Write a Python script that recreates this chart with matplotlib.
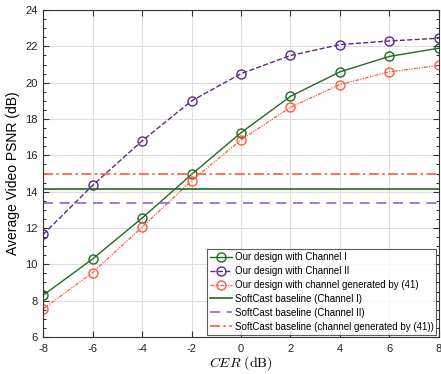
import numpy as np
import matplotlib
matplotlib.use("Agg")
import matplotlib.pyplot as plt

plt.rcParams['font.family'] = ['Liberation Sans', 'DejaVu Sans']
plt.rcParams['mathtext.fontset'] = 'cm'

cer = [-8, -6, -4, -2, 0, 2, 4, 6, 8]
ours_ch1 = [8.3, 10.3, 12.55, 14.95, 17.25, 19.25, 20.6, 21.45, 21.9]
ours_ch2 = [11.65, 14.35, 16.8, 19.0, 20.5, 21.5, 22.1, 22.3, 22.45]
ours_41 = [7.55, 9.55, 12.05, 14.6, 16.85, 18.65, 19.9, 20.6, 20.95]
softcast_ch1 = 14.15
softcast_ch2 = 13.4
softcast_41 = 15.0

green = '#1f6b1f'
purple = '#5a2a8a'
red = '#ff5a3c'

fig = plt.figure(figsize=(4.41, 3.74), dpi=100)
ax = fig.add_axes([0.098, 0.099, 0.897, 0.874])

ax.plot(cer, ours_ch1, '-', color=green, marker='o', mfc='none', ms=6.5, lw=1.0,
        label='Our design with Channel I')
ax.plot(cer, ours_ch2, '--', color=purple, marker='o', mfc='none', ms=6.5, lw=1.0,
        label='Our design with Channel II')
ax.plot(cer, ours_41, '-.', color=red, marker='o', mfc='none', ms=6.5, lw=0.9,
        dashes=(3, 1, 1, 1, 1, 1), label='Our design with channel generated by (41)')
ax.axhline(softcast_ch1, color=green, lw=1.2, ls='-',
           label='SoftCast baseline (Channel I)')
ax.axhline(softcast_ch2, color='#9a62c8', lw=1.2, ls=(0, (6, 4)),
           label='SoftCast baseline (Channel II)')
ax.axhline(softcast_41, color=red, lw=1.2, ls=(0, (6, 2, 1.5, 2)),
           label='SoftCast baseline (channel generated by (41))')

ax.set_xlim(-8, 8)
ax.set_ylim(6, 24)
ax.set_xticks(cer)
ax.set_xticklabels([str(v) for v in cer])
ax.set_yticks(np.arange(6, 25, 2))
ax.set_yticks(np.arange(6, 24.1, 0.5), minor=True)
ax.tick_params(axis='both', labelsize=8, color='#333333', labelcolor='#222222',
               direction='in', length=4, top=True, right=True, pad=4)
ax.tick_params(axis='x', pad=5)
ax.tick_params(axis='y', which='minor', direction='in', length=2, right=True)
ax.grid(True, which='major', color='#dddddd', lw=0.8)
ax.set_axisbelow(True)
for s in ax.spines.values():
    s.set_color('#333333')
    s.set_linewidth(0.8)

ax.set_xlabel(r'$CER\ (\mathrm{dB})$', fontsize=10, labelpad=0)
ax.set_ylabel('Average Video PSNR (dB)', fontsize=10, labelpad=4)

leg = ax.legend(loc='lower right', fontsize=7, frameon=True, fancybox=False,
                edgecolor='#333333', handlelength=2.2, handletextpad=0.3,
                borderpad=0.3, labelspacing=0.4, borderaxespad=0.25)
leg.get_frame().set_linewidth(0.8)

fig.savefig('out.png', dpi=100)
